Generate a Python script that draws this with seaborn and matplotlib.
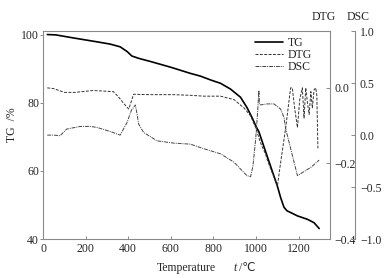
import numpy as np
import pandas as pd
import matplotlib
matplotlib.use("Agg")
import matplotlib.pyplot as plt
import seaborn as sns

# ================= DATA =================
tg_temp = [20, 60, 143, 250, 315, 362, 395, 417, 450, 504, 600, 692, 739, 790,
           833, 880, 927, 958, 982, 1000, 1013, 1040, 1070, 1100, 1115, 1131,
           1145, 1165, 1194, 1241, 1272, 1296]
tg_vals = [100.0, 99.9, 99.0, 97.9, 97.2, 96.4, 95.0, 93.7, 93.0, 92.1, 90.4,
           88.6, 87.8, 86.6, 85.7, 84.0, 81.6, 78.5, 75.5, 73.0, 71.5, 66.5,
           61.0, 55.5, 52.2, 49.3, 48.3, 47.7, 46.8, 45.8, 44.8, 43.1]

dtg_temp = [20, 50, 100, 150, 235, 330, 353, 380, 402, 412, 425, 500, 613, 700,
            754, 833, 896, 943, 974, 998, 1021, 1045, 1052, 1076, 1100, 1112,
            1139, 1162, 1170, 1180, 1194, 1205, 1217, 1225, 1233, 1241, 1249,
            1257, 1264, 1272, 1280, 1285, 1290]
dtg_vals = [0.0, -0.002, -0.012, -0.012, -0.007, -0.010, -0.023, -0.042, -0.056,
            -0.040, -0.017, -0.018, -0.018, -0.020, -0.022, -0.022, -0.031,
            -0.053, -0.074, -0.105, -0.146, -0.176, -0.190, -0.225, -0.260,
            -0.210, -0.105, 0.0, 0.0, -0.050, -0.105, -0.030, 0.0, -0.080, 0.0,
            -0.040, -0.070, -0.010, -0.053, -0.005, 0.0, -0.020, -0.160]

dsc_temp = [20, 50, 80, 111, 174, 221, 253, 315, 362, 394, 415, 433, 440, 449,
            472, 535, 613, 692, 739, 762, 833, 896, 957, 974, 985, 998, 1008,
            1013, 1016, 1020, 1052, 1084, 1115, 1131, 1139, 1194, 1257, 1296]
dsc_vals = [0.0, 0.0, -0.006, 0.058, 0.083, 0.084, 0.074, 0.035, 0.0, 0.12,
            0.24, 0.29, 0.22, 0.106, 0.026, -0.055, -0.077, -0.087, -0.12,
            -0.135, -0.18, -0.26, -0.39, -0.40, -0.30, -0.04, 0.25, 0.43, 0.30,
            0.29, 0.30, 0.30, 0.25, 0.17, 0.06, -0.39, -0.31, -0.24]

x_ticks = [0, 200, 400, 600, 800, 1000, 1200]
tg_ticks = [40, 60, 80, 100]
dtg_ticks = [-0.4, -0.2, 0.0]
dsc_ticks = [-1.0, -0.5, 0.0, 0.5, 1.0]

# ================= STYLE =================
sns.set_style("ticks")
plt.rcParams["font.family"] = ["Liberation Serif", "DejaVu Sans"]
plt.rcParams["font.size"] = 8.5

SPINE = "#8a8a8a"
FONTS = ["Liberation Serif", "DejaVu Sans"]

df_tg = pd.DataFrame({"T": tg_temp, "v": tg_vals})
df_dtg = pd.DataFrame({"T": dtg_temp, "v": dtg_vals})
df_dsc = pd.DataFrame({"T": dsc_temp, "v": dsc_vals})

fig = plt.figure(figsize=(3.91, 2.78), dpi=100)
ax = fig.add_axes([0.110, 0.140, 0.733, 0.748])
ax2 = ax.twinx()
ax3 = ax.twinx()
ax3.spines["right"].set_position(("axes", 1.089))

sns.lineplot(data=df_tg, x="T", y="v", ax=ax, color="black", linewidth=1.2,
             label="TG", legend=False)
sns.lineplot(data=df_dtg, x="T", y="v", ax=ax2, color="#333333", linewidth=0.7,
             linestyle=(0, (3, 1.5)), label="DTG", legend=False)
sns.lineplot(data=df_dsc, x="T", y="v", ax=ax3, color="#444444", linewidth=0.7,
             linestyle=(0, (4, 1, 1, 1)), label="DSC", legend=False)

# axes limits and ticks
ax.set_xlim(0, 1345)
ax.set_ylim(40, 101)
ax.set_xticks(x_ticks)
ax.set_yticks(tg_ticks)
ax2.set_ylim(-0.4, 0.15)
ax2.set_yticks(dtg_ticks)
ax3.set_ylim(-1.0, 1.0)
ax3.set_yticks(dsc_ticks)

for a in (ax, ax2, ax3):
    for s in a.spines.values():
        s.set_color(SPINE)
        s.set_linewidth(0.8)
for a in (ax2, ax3):
    for side in ("top", "left", "bottom"):
        a.spines[side].set_visible(False)
ax.spines["right"].set_visible(False)

ax.tick_params(axis="x", direction="in", length=2.5, width=0.7, color=SPINE,
               pad=2.5, labelsize=8.5)
ax.tick_params(axis="y", direction="out", length=2, width=0.7, color=SPINE,
               pad=0.8, labelsize=8.5)
ax2.tick_params(axis="y", direction="in", length=3, width=0.7, color=SPINE,
                pad=3.5, labelsize=8.5)
ax3.tick_params(axis="y", direction="in", length=3, width=0.7, color=SPINE,
                pad=3.5, labelsize=8.5)

# x label in pieces: upright word, italic t, unit with the ℃ sign
ax.set_xlabel("")
ylab = 1 - 268 / 278
fig.text(157 / 391, ylab, "Temperature", ha="left", va="center",
         fontsize=8.5, family=FONTS)
fig.text(233 / 391, ylab, "t", ha="left", va="center", fontsize=8.5,
         style="italic", family=FONTS)
fig.text(239 / 391, ylab, "/℃", ha="left", va="center", fontsize=8.5,
         family=FONTS)

ax.set_ylabel("TG  /%", fontsize=8.5)
ax.yaxis.set_label_coords(-0.088, 0.55)
ax2.set_ylabel("")
ax3.set_ylabel("")

fig.text(324 / 391, 1 - 17 / 278, "DTG", ha="center", va="center", fontsize=8.5)
fig.text(358 / 391, 1 - 17 / 278, "DSC", ha="center", va="center", fontsize=8.5)

# legend gathers all three series
handles = []
labels = []
for a in (ax, ax2, ax3):
    h, l = a.get_legend_handles_labels()
    handles += h
    labels += l
ax3.legend(handles, labels, loc="upper left", bbox_to_anchor=(0.71, 1.01),
           frameon=False, fontsize=8.5, handlelength=2.4, handletextpad=0.4,
           labelspacing=0.0, borderpad=0.2)

fig.savefig("out.png", dpi=100)
